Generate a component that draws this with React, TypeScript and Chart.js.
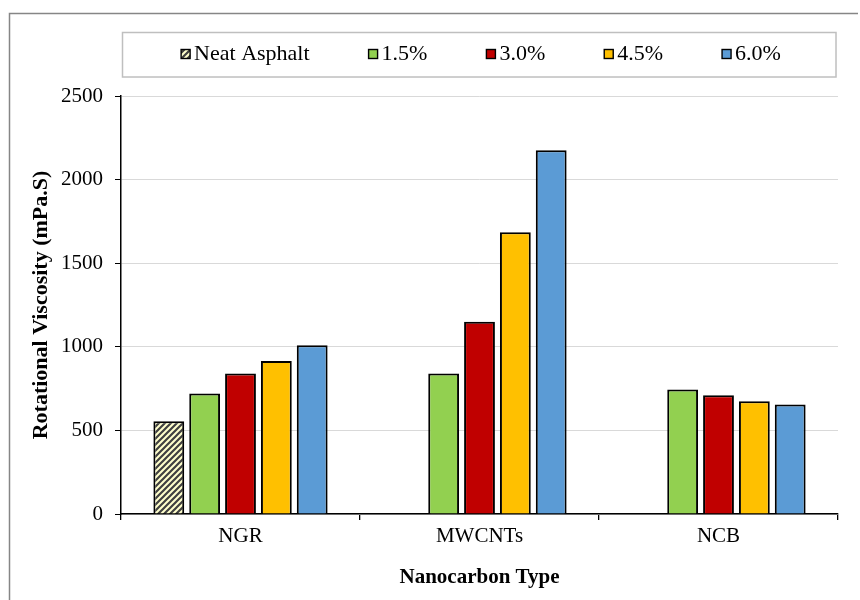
import React, { useEffect, useRef } from "react";
import { Chart, registerables } from "chart.js";

Chart.register(...registerables);

const categories = ["NGR", "MWCNTs", "NCB"];
const seriesLabels = ["Neat Asphalt", "1.5%", "3.0%", "4.5%", "6.0%"];
const neatAsphalt = [555, null, null];
const pct15 = [720, 840, 745];
const pct30 = [840, 1150, 710];
const pct45 = [915, 1685, 675];
const pct60 = [1010, 2175, 655];
const yMin = 0;
const yMax = 2500;
const yStep = 500;
const yTitle = "Rotational Viscosity (mPa.S)";
const xTitle = "Nanocarbon Type";

const FONT = '"Liberation Serif", "Times New Roman", serif';

function makeHatch(): CanvasPattern | string {
  const c = document.createElement("canvas");
  c.width = 6;
  c.height = 6;
  const g = c.getContext("2d");
  if (!g) return "#ffffcc";
  g.fillStyle = "#ffffcc";
  g.fillRect(0, 0, 6, 6);
  g.strokeStyle = "#404040";
  g.lineWidth = 2.2;
  g.beginPath();
  g.moveTo(0, 6);
  g.lineTo(6, 0);
  g.moveTo(-3, 3);
  g.lineTo(3, -3);
  g.moveTo(3, 9);
  g.lineTo(9, 3);
  g.stroke();
  const p = g.createPattern(c, "repeat");
  return p || "#ffffcc";
}

const framePlugin = {
  id: "frameAndLegend",
  beforeDraw(chart: any) {
    const ctx = chart.ctx as CanvasRenderingContext2D;
    ctx.save();
    ctx.fillStyle = "#ffffff";
    ctx.fillRect(0, 0, chart.width, chart.height);
    ctx.strokeStyle = "#868686";
    ctx.lineWidth = 1.5;
    ctx.beginPath();
    ctx.moveTo(9.5, 605);
    ctx.lineTo(9.5, 13.5);
    ctx.lineTo(858, 13.5);
    ctx.stroke();
    ctx.strokeStyle = "#bfbfbf";
    ctx.lineWidth = 1.5;
    ctx.strokeRect(122.5, 32.5, 713.5, 44.5);
    ctx.restore();
  },
  afterDraw(chart: any) {
    const ctx = chart.ctx as CanvasRenderingContext2D;
    ctx.save();
    ctx.font = "22px " + FONT;
    ctx.textBaseline = "middle";
    ctx.textAlign = "left";
    const box = 9;
    const gap = 4;
    const spacing = 59;
    const ds = chart.data.datasets;
    const widths = ds.map((d: any) => box + gap + ctx.measureText(d.label).width);
    const total = widths.reduce((a: number, b: number) => a + b, 0) + spacing * (ds.length - 1);
    let x = 481 - total / 2;
    const cy = 54;
    ds.forEach((d: any, i: number) => {
      ctx.fillStyle = d.backgroundColor;
      ctx.fillRect(x, cy - box / 2, box, box);
      ctx.strokeStyle = "#000";
      ctx.lineWidth = 1.4;
      ctx.strokeRect(x, cy - box / 2, box, box);
      ctx.fillStyle = "#000";
      ctx.fillText(d.label, x + box + gap, cy + 0.5);
      x += widths[i] + spacing;
    });
    ctx.restore();
  },
};

export default function App() {
  const ref = useRef<HTMLCanvasElement | null>(null);

  useEffect(() => {
    if (!ref.current) return;
    const hatch = makeHatch();
    const colors = [hatch, "#92d050", "#c00000", "#ffc000", "#5b9bd5"];
    const values = [neatAsphalt, pct15, pct30, pct45, pct60];
    const chart = new Chart(ref.current, {
      type: "bar",
      data: {
        labels: categories,
        datasets: seriesLabels.map((label, i) => ({
          label,
          data: values[i] as any,
          backgroundColor: colors[i] as any,
          borderColor: "#000000",
          borderWidth: 2,
          categoryPercentage: 0.75,
          barPercentage: 0.86,
        })),
      },
      options: {
        responsive: false,
        animation: false,
        devicePixelRatio: 1,
        layout: { padding: { left: 20, right: 22, top: 96, bottom: 0 } },
        plugins: {
          legend: { display: false },
          tooltip: { enabled: false },
          title: { display: false },
        },
        scales: {
          x: {
            grid: {
              display: true,
              drawOnChartArea: false,
              offset: true,
              color: "#000",
              tickLength: 6,
              lineWidth: 1.3,
            },
            border: { color: "#000", width: 1.5 },
            ticks: { color: "#000", font: { family: FONT, size: 21 }, padding: 4 },
            title: {
              display: true,
              text: xTitle,
              color: "#000",
              font: { family: FONT, size: 21, weight: "bold" },
              padding: { top: 0, bottom: 10 },
            },
            afterFit: (s: any) => {
              s.height = 86;
            },
          },
          y: {
            min: yMin,
            max: yMax,
            grid: {
              color: "#d9d9d9",
              tickColor: "#000",
              tickLength: 6,
              lineWidth: 1,
            },
            border: { color: "#000", width: 1.5 },
            ticks: {
              stepSize: yStep,
              color: "#000",
              font: { family: FONT, size: 21 },
              padding: 12,
              callback: (v: any) => String(v),
            },
            title: {
              display: true,
              text: yTitle,
              color: "#000",
              font: { family: FONT, size: 22, weight: "bold" },
              padding: { top: 8, bottom: 0 },
            },
            afterFit: (s: any) => {
              s.width = 101;
            },
          },
        },
      },
      plugins: [framePlugin],
    });
    return () => chart.destroy();
  }, []);

  return (
    <div style={{ position: "absolute", left: 0, top: 0, width: 860, height: 600 }}>
      <canvas ref={ref} width={860} height={600} style={{ display: "block", width: 860, height: 600 }} />
    </div>
  );
}
